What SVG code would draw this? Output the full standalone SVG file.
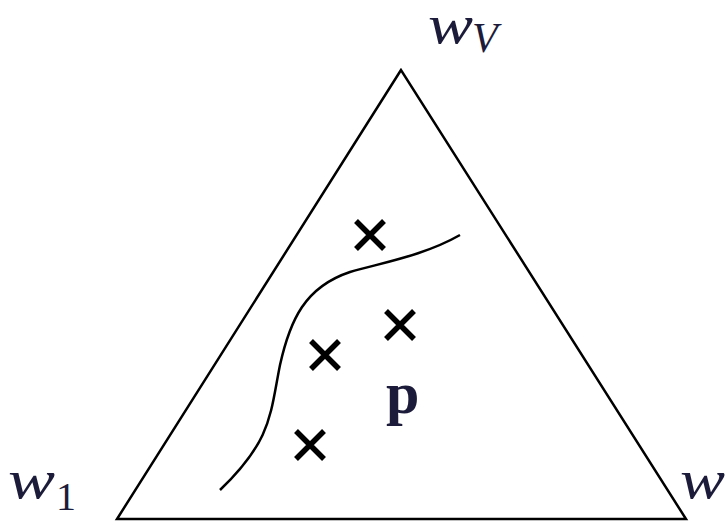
<svg xmlns="http://www.w3.org/2000/svg" width="727" height="521" viewBox="0 0 727 521">
<style>
.lbl{font-family:"Liberation Serif","DejaVu Serif",serif;font-style:italic;fill:#1c1c3a}
.sub{font-family:"Liberation Serif","DejaVu Serif",serif;fill:#1c1c3a}
.cross{stroke:#000;stroke-width:5.5;fill:none}
</style>
<defs>
<g id="x"><path class="cross" d="M-14,-14 L14,14 M14,-14 L-14,14"/></g>
</defs>
<rect width="727" height="521" fill="#fff"/>
<g id="simplex">
<path d="M401,70 L117,519 L686,519 Z" fill="none" stroke="#000" stroke-width="2.5" stroke-linejoin="miter"/>
</g>
<g id="connectors">
<path d="M460,235 C425,255 385,262 350,272 C305,287 290,320 280,365 C270,415 272,440 220,490" fill="none" stroke="#000" stroke-width="2.5"/>
</g>
<g id="samples">
<use href="#x" x="370" y="235"/>
<use href="#x" x="400" y="325"/>
<use href="#x" x="325" y="355"/>
<use href="#x" x="310" y="445"/>
</g>
<g id="label-p"><text x="386" y="413" font-family="Liberation Serif, serif" font-weight="bold" font-size="60" fill="#1c1c3a">p</text></g>
<g id="label-wV"><text class="lbl" x="428" y="43" font-size="54" textLength="45" lengthAdjust="spacingAndGlyphs">w</text><text class="lbl" x="472" y="52" font-size="42">V</text></g>
<g id="label-w1"><text class="lbl" x="8" y="498" font-size="54" textLength="47" lengthAdjust="spacingAndGlyphs">w</text><text class="sub" x="56" y="510" font-size="40">1</text></g>
<g id="label-w"><text class="lbl" x="680" y="498" font-size="54" textLength="45" lengthAdjust="spacingAndGlyphs">w</text></g>
</svg>
